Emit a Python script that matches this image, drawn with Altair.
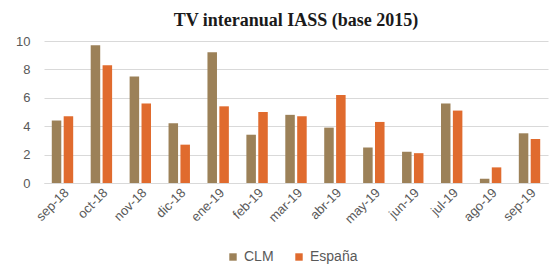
import altair as alt
import pandas as pd

months = ["sep-18", "oct-18", "nov-18", "dic-18", "ene-19", "feb-19", "mar-19",
          "abr-19", "may-19", "jun-19", "jul-19", "ago-19", "sep-19"]
clm = [4.4, 9.7, 7.5, 4.2, 9.2, 3.4, 4.8, 3.9, 2.5, 2.2, 5.6, 0.3, 3.5]
espana = [4.7, 8.3, 5.6, 2.7, 5.4, 5.0, 4.7, 6.2, 4.3, 2.1, 5.1, 1.1, 3.1]
series = ["CLM", "España"]
colors = ["#9c8158", "#e06b2e"]

rows = []
for i, m in enumerate(months):
    rows.append({"mes": m, "serie": "CLM", "valor": clm[i]})
    rows.append({"mes": m, "serie": "España", "valor": espana[i]})
df = pd.DataFrame(rows)

font = "Liberation Sans"

chart = alt.Chart(df).mark_bar().encode(
    x=alt.X("mes:N", sort=months, title=None,
            scale=alt.Scale(paddingInner=0.45, paddingOuter=0.2),
            axis=alt.Axis(labelAngle=-45, labelFontSize=13, labelColor="#595959",
                          labelFont=font, ticks=False, domainColor="#d9d9d9",
                          labelPadding=3)),
    xOffset=alt.XOffset("serie:N", sort=series, scale=alt.Scale(paddingInner=0.2)),
    y=alt.Y("valor:Q", title=None,
            scale=alt.Scale(domain=[0, 10]),
            axis=alt.Axis(values=[0, 2, 4, 6, 8, 10], labelFontSize=13, labelColor="#595959",
                          labelFont=font, domain=False, ticks=False, gridColor="#d9d9d9",
                          labelPadding=14)),
    color=alt.Color("serie:N", sort=series, title=None,
                    scale=alt.Scale(domain=series, range=colors),
                    legend=alt.Legend(orient="none", direction="horizontal",
                                      legendX=182, legendY=209, symbolType="square",
                                      symbolSize=55, labelFontSize=14, labelColor="#595959",
                                      labelFont=font, columnPadding=18, symbolStrokeWidth=0,
                                      labelOffset=4)),
).properties(
    width=504, height=142,
    title=alt.TitleParams("TV interanual IASS (base 2015)", font="Liberation Serif",
                          fontSize=18, fontWeight="bold", color="#1a1a1a", offset=5),
    autosize=alt.AutoSizeParams(type="none"),
    padding={"left": 36, "top": 33, "right": 4, "bottom": 82},
).configure_view(stroke=None)

chart.save("out.html", embed_options={"renderer": "svg", "actions": False})
